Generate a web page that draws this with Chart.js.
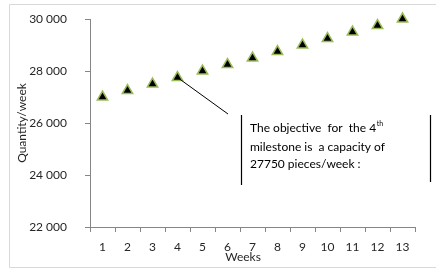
<!DOCTYPE html>
<html>
<head>
<meta charset="utf-8">
<script src="https://cdn.jsdelivr.net/npm/chart.js@4"></script>
<style>
  html, body { margin: 0; padding: 0; background: #fff; }
  #wrap { width: 436px; height: 269px; position: relative; }
</style>
</head>
<body>
<div id="wrap"><canvas id="chart"></canvas></div>
<script>
// data
const weeks = ['1', '2', '3', '4', '5', '6', '7', '8', '9', '10', '11', '12', '13'];
const quantity = [27000, 27250, 27500, 27750, 28000, 28250, 28500, 28750, 29000, 29250, 29500, 29750, 30000];
const yTicks = [22000, 24000, 26000, 28000, 30000];
const milestoneIndex = 3;

const FONT = 'Lato, "Open Sans", sans-serif';
const axisGrey = '#868686';

const fmt = v => String(v).replace(/\B(?=(\d{3})+(?!\d))/g, ' ');

// frame, callout and x title
const extras = {
  id: 'extras',
  beforeDraw(chart) {
    const c = chart.ctx;
    c.save();
    c.strokeStyle = '#d9d9d9';
    c.lineWidth = 1;
    c.beginPath();
    c.moveTo(440, 4.5);
    c.lineTo(9.5, 4.5);
    c.lineTo(9.5, 267.5);
    c.lineTo(440, 267.5);
    c.stroke();
    c.restore();
  },
  afterDraw(chart) {
    const c = chart.ctx;
    const x = chart.scales.x, y = chart.scales.y;
    const px = x.getPixelForValue(milestoneIndex);
    const py = y.getPixelForValue(quantity[milestoneIndex]);
    c.save();
    // pointer line
    c.strokeStyle = '#000';
    c.lineWidth = 1;
    c.beginPath();
    c.moveTo(px, py);
    c.lineTo(228, 114);
    c.stroke();
    // box sides
    c.lineWidth = 1.2;
    c.beginPath();
    c.moveTo(241.5, 115); c.lineTo(241.5, 185);
    c.moveTo(430.5, 115); c.lineTo(430.5, 182);
    c.stroke();
    // text
    c.fillStyle = '#000';
    c.textBaseline = 'middle';
    c.font = '12px ' + FONT;
    const l1 = 'The objective  for  the 4';
    c.fillText(l1, 250, 128);
    const w = c.measureText(l1).width;
    c.font = '7px ' + FONT;
    c.fillText('th', 250 + w + 0.5, 124);
    c.font = '12px ' + FONT;
    c.fillText('milestone is  a capacity of', 250, 147);
    c.fillText('27750 pieces/week :', 250, 164);
    // x title
    c.fillStyle = '#262626';
    c.font = '12px ' + FONT;
    c.textAlign = 'center';
    c.fillText('Weeks', 243, 257);
    c.restore();
  }
};

new Chart(document.getElementById('chart'), {
  type: 'line',
  data: {
    labels: weeks,
    datasets: [{
      data: quantity,
      showLine: false,
      clip: false,
      pointStyle: 'triangle',
      pointRadius: 6,
      pointHoverRadius: 6,
      pointBackgroundColor: '#000',
      pointBorderColor: '#9bbb59',
      pointBorderWidth: 1.5
    }]
  },
  options: {
    responsive: true,
    maintainAspectRatio: false,
    animation: false,
    events: [],
    layout: { autoPadding: false, padding: { left: 10, top: 19, right: 21, bottom: 0 } },
    plugins: { legend: { display: false }, tooltip: { enabled: false } },
    scales: {
      x: {
        offset: true,
        afterFit: s => { s.height = 42; s.paddingLeft = 0; s.paddingRight = 0; },
        grid: { display: true, offset: true, drawOnChartArea: false, tickLength: 5, color: axisGrey },
        border: { color: axisGrey },
        ticks: { color: '#262626', font: { family: FONT, size: 12 }, padding: 8, maxRotation: 0 }
      },
      y: {
        min: 22000,
        max: 30000,
        afterBuildTicks: s => { s.ticks = yTicks.map(v => ({ value: v })); },
        afterFit: s => { s.width = 80; s.paddingTop = 0; s.paddingBottom = 0; },
        grid: { display: true, drawOnChartArea: false, tickLength: 5, color: axisGrey },
        border: { color: axisGrey },
        ticks: { color: '#262626', font: { family: FONT, size: 12 }, padding: 18, callback: v => fmt(v) },
        title: {
          display: true,
          text: 'Quantity/week',
          color: '#262626',
          font: { family: FONT, size: 12 },
          padding: { top: 5, bottom: 0 }
        }
      }
    }
  },
  plugins: [extras]
});
</script>
</body>
</html>
